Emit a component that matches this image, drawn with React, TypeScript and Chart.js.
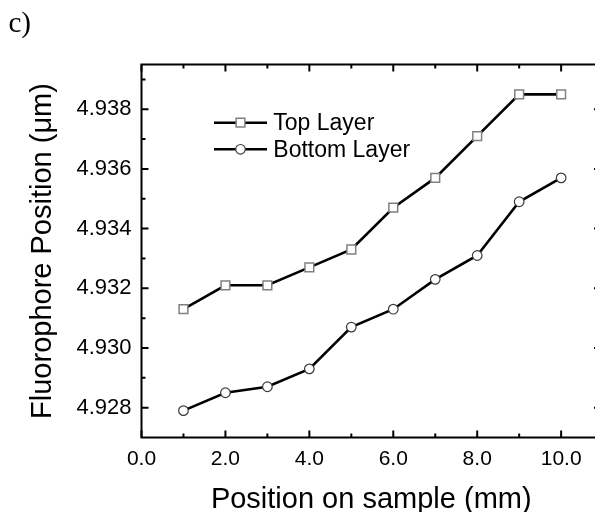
import { useEffect, useRef } from "react";
import { Chart, registerables } from "chart.js";

Chart.register(...registerables);

const POSITIONS = [1, 2, 3, 4, 5, 6, 7, 8, 9, 10];
const TOP_LAYER = [4.9313, 4.9321, 4.9321, 4.9327, 4.9333, 4.9347, 4.9357, 4.9371, 4.9385, 4.9385];
const BOTTOM_LAYER = [4.9279, 4.9285, 4.9287, 4.9293, 4.9307, 4.9313, 4.9323, 4.9331, 4.9349, 4.9357];
const SERIES_LABELS = ["Top Layer", "Bottom Layer"];
const X_TICKS = [0, 2, 4, 6, 8, 10];
const X_MINOR = [1, 3, 5, 7, 9];
const Y_TICKS = [4.928, 4.93, 4.932, 4.934, 4.936, 4.938];
const Y_MINOR = [4.929, 4.931, 4.933, 4.935, 4.937, 4.939];
const X_TITLE = "Position on sample (mm)";
const Y_TITLE = "Fluorophore Position (\u03bcm)";
const PANEL_LABEL = "c)";

const SANS = '"Liberation Sans", Arial, sans-serif';
const SERIF = '"Liberation Serif", "Times New Roman", serif';

const framePlugin = {
  id: "originFrame",
  beforeDatasetsDraw(chart: any) {
    const { ctx, chartArea: a, scales } = chart;
    const x = scales.x;
    const y = scales.y;
    ctx.save();
    ctx.strokeStyle = "#000";
    ctx.lineWidth = 2;
    ctx.strokeRect(a.left, a.top, a.right - a.left, a.bottom - a.top);
    ctx.beginPath();
    const xt = (vals: number[], len: number) => {
      for (const v of vals) {
        const px = x.getPixelForValue(v);
        ctx.moveTo(px, a.bottom);
        ctx.lineTo(px, a.bottom - len);
        ctx.moveTo(px, a.top);
        ctx.lineTo(px, a.top + len);
      }
    };
    const yt = (vals: number[], len: number) => {
      for (const v of vals) {
        const py = y.getPixelForValue(v);
        ctx.moveTo(a.left, py);
        ctx.lineTo(a.left + len, py);
        ctx.moveTo(a.right, py);
        ctx.lineTo(a.right - len, py);
      }
    };
    xt(X_TICKS, 7);
    xt(X_MINOR, 4);
    yt(Y_TICKS, 7);
    yt(Y_MINOR, 4);
    ctx.stroke();
    ctx.restore();
  },
  afterDraw(chart: any) {
    const { ctx, chartArea: a } = chart;
    ctx.save();
    // legend
    chart.data.datasets.forEach((ds: any, i: number) => {
      const rowY = a.top + 58.2 + i * 26.6;
      ctx.strokeStyle = ds.borderColor;
      ctx.lineWidth = ds.borderWidth;
      ctx.beginPath();
      ctx.moveTo(a.left + 72.5, rowY);
      ctx.lineTo(a.left + 125.5, rowY);
      ctx.stroke();
      const mx = a.left + 99;
      ctx.fillStyle = ds.pointBackgroundColor;
      ctx.strokeStyle = ds.pointBorderColor;
      ctx.lineWidth = ds.pointBorderWidth;
      ctx.beginPath();
      if (ds.pointStyle === "rect") {
        const s = Math.SQRT1_2 * ds.pointRadius;
        ctx.rect(mx - s, rowY - s, 2 * s, 2 * s);
      } else {
        ctx.arc(mx, rowY, ds.pointRadius, 0, Math.PI * 2);
      }
      ctx.fill();
      ctx.stroke();
      ctx.fillStyle = "#000";
      ctx.font = `23px ${SANS}`;
      ctx.textAlign = "left";
      ctx.textBaseline = "alphabetic";
      ctx.fillText(ds.label, a.left + 131.8, rowY + 7.4);
    });
    // panel label
    ctx.fillStyle = "#000";
    ctx.font = `29px ${SERIF}`;
    ctx.textAlign = "left";
    ctx.textBaseline = "alphabetic";
    ctx.fillText(PANEL_LABEL, 0.5, 24);
    ctx.restore();
  },
};

export default function App() {
  const canvasRef = useRef<HTMLCanvasElement | null>(null);

  useEffect(() => {
    document.body.style.marginRight = "0px";
    const canvas = canvasRef.current;
    if (!canvas) return;
    const chart = new Chart(canvas, {
      type: "line",
      data: {
        datasets: [
          {
            label: SERIES_LABELS[0],
            data: POSITIONS.map((x, i) => ({ x, y: TOP_LAYER[i] })),
            borderColor: "#000",
            borderWidth: 2.6,
            pointStyle: "rect",
            pointRadius: 6.2,
            pointBackgroundColor: "#fff",
            pointBorderColor: "#808080",
            pointBorderWidth: 1.5,
            tension: 0,
          } as any,
          {
            label: SERIES_LABELS[1],
            data: POSITIONS.map((x, i) => ({ x, y: BOTTOM_LAYER[i] })),
            borderColor: "#000",
            borderWidth: 2.6,
            pointStyle: "circle",
            pointRadius: 4.8,
            pointBackgroundColor: "#fff",
            pointBorderColor: "#3a3a3a",
            pointBorderWidth: 1.2,
            tension: 0,
          } as any,
        ],
      },
      options: {
        responsive: false,
        devicePixelRatio: 1,
        animation: false,
        layout: { padding: { left: 0, top: 56.5, right: 27, bottom: 0 } },
        plugins: {
          legend: { display: false },
          tooltip: { enabled: false },
        },
        scales: {
          x: {
            type: "linear",
            min: 0,
            max: 10.95,
            grid: { display: false, drawTicks: false },
            border: { display: false },
            ticks: {
              padding: 9,
              color: "#000",
              font: { family: SANS, size: 21 },
              maxRotation: 0,
              autoSkip: false,
              callback: (v: any) => Number(v).toFixed(1),
            },
            afterBuildTicks: (s: any) => {
              s.ticks = X_TICKS.map((value) => ({ value }));
            },
            afterFit: (s: any) => {
              s.height = 74.5;
            },
            title: {
              display: true,
              text: X_TITLE,
              color: "#000",
              font: { family: SANS, size: 29 },
              padding: { top: 0, bottom: -5.4 },
            },
          },
          y: {
            type: "linear",
            min: 4.927,
            max: 4.9395,
            grid: { display: false, drawTicks: false },
            border: { display: false },
            ticks: {
              padding: 10,
              color: "#000",
              font: { family: SANS, size: 22 },
              autoSkip: false,
              callback: (v: any) => Number(v).toFixed(3),
            },
            afterBuildTicks: (s: any) => {
              s.ticks = Y_TICKS.map((value) => ({ value }));
            },
            afterFit: (s: any) => {
              s.width = 133.5;
            },
            title: {
              display: true,
              text: Y_TITLE,
              color: "#000",
              font: { family: SANS, size: 29 },
              padding: { top: 18, bottom: 0 },
            },
          },
        },
      } as any,
      plugins: [framePlugin],
    });
    return () => chart.destroy();
  }, []);

  return (
    <div style={{ width: 587, height: 504, overflow: "hidden" }}>
      <canvas ref={canvasRef} width={620} height={504} style={{ display: "block" }} />
    </div>
  );
}
